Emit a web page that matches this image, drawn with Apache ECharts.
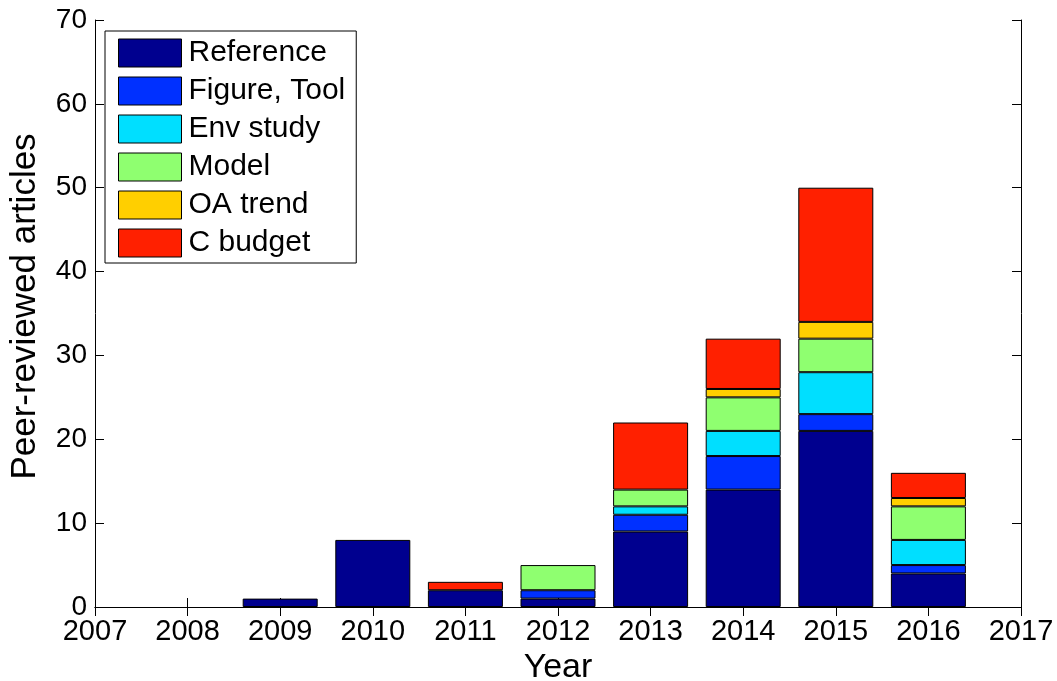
<!DOCTYPE html>
<html><head><meta charset="utf-8">
<script src="https://cdn.jsdelivr.net/npm/echarts@6/dist/echarts.min.js"></script>
<style>html,body{margin:0;padding:0;background:#fff}#c{width:1057px;height:681px}</style>
</head><body><div id="c"></div>
<script>
const years = ['2007', '2008', '2009', '2010', '2011', '2012', '2013', '2014', '2015', '2016', '2017'];
const seriesNames = ['Reference', 'Figure, Tool', 'Env study', 'Model', 'OA trend', 'C budget'];
const reference = [0, 0, 1, 8, 2, 1, 9, 14, 21, 4, 0];
const figureTool = [0, 0, 0, 0, 0, 1, 2, 4, 2, 1, 0];
const envStudy = [0, 0, 0, 0, 0, 0, 1, 3, 5, 3, 0];
const model = [0, 0, 0, 0, 0, 3, 2, 4, 4, 4, 0];
const oaTrend = [0, 0, 0, 0, 0, 0, 0, 1, 2, 1, 0];
const cBudget = [0, 0, 0, 0, 1, 0, 8, 6, 16, 3, 0];
const yTicks = [0, 10, 20, 30, 40, 50, 60, 70];

const colors = ['#00008F', '#0030FF', '#00DFFF', '#8FFF70', '#FFCF00', '#FF2000'];
const values = [reference, figureTool, envStudy, model, oaTrend, cBudget];
const font = 'Liberation Sans, Arial, sans-serif';

const chart = echarts.init(document.getElementById('c'));
const axisLine = {show: true, lineStyle: {color: '#000', width: 1}};
const axisTick = {show: true, inside: true, length: 9, lineStyle: {color: '#000'}};
chart.setOption({
  animation: false,
  color: colors,
  textStyle: {fontFamily: font},
  grid: {left: 95, right: 36, top: 20, bottom: 74, containLabel: false, outerBoundsMode: 'none'},
  legend: {
    orient: 'vertical', left: 105, top: 31,
    data: seriesNames,
    icon: 'rect',
    itemWidth: 63, itemHeight: 28, itemGap: 8,
    padding: [7, 11, 5, 13],
    borderColor: '#000', borderWidth: 1, backgroundColor: '#fff',
    textStyle: {fontSize: 30, lineHeight: 28, color: '#000', fontFamily: font, padding: [0, 0, 0, 2]},
    itemStyle: {borderColor: '#000', borderWidth: 1}
  },
  xAxis: [
    {type: 'category', data: years, boundaryGap: false,
      name: 'Year', nameLocation: 'middle', nameGap: 42,
      nameTextStyle: {fontSize: 34, color: '#000', fontFamily: font},
      axisLine, axisTick: Object.assign({interval: 0}, axisTick),
      axisLabel: {color: '#000', fontSize: 29, margin: 10, interval: 0, fontFamily: font},
      splitLine: {show: false}},
    {type: 'category', data: years, boundaryGap: false, position: 'top',
      axisLine, axisTick: Object.assign({interval: 0}, axisTick),
      axisLabel: {show: false}, splitLine: {show: false}}
  ],
  yAxis: [
    {type: 'value', min: 0, max: 70, interval: 10,
      name: 'Peer-reviewed articles', nameLocation: 'middle', nameGap: 52,
      nameTextStyle: {fontSize: 35, color: '#000', fontFamily: font, padding: [0, 0, 0, 14]},
      axisLine, axisTick,
      axisLabel: {color: '#000', fontSize: 28, margin: 8, fontFamily: font},
      splitLine: {show: false}},
    {type: 'value', min: 0, max: 70, interval: 10, position: 'right',
      axisLine, axisTick, axisLabel: {show: false}, splitLine: {show: false}}
  ],
  series: seriesNames.map((n, i) => ({
    name: n, type: 'bar', stack: 'a', barWidth: 75,
    itemStyle: {color: colors[i], borderColor: '#000', borderWidth: 1},
    data: values[i].map(v => v === 0 ? null : v)
  }))
});
</script></body></html>
